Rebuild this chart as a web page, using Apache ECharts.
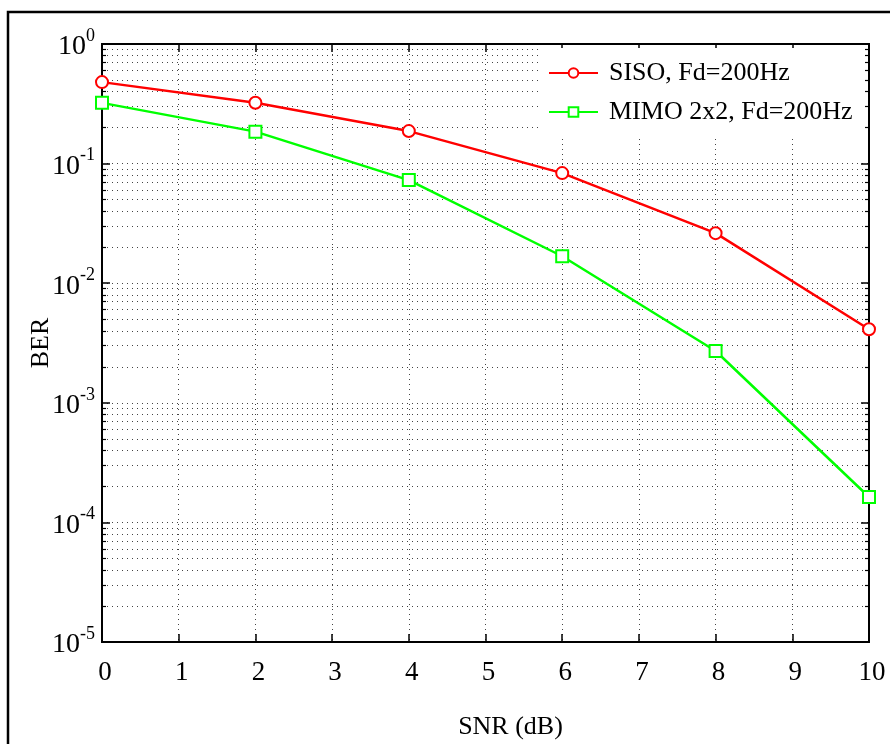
<!DOCTYPE html>
<html>
<head>
<meta charset="utf-8">
<script src="https://cdn.jsdelivr.net/npm/echarts@6/dist/echarts.min.js"></script>
<style>
html,body{margin:0;padding:0;background:#fff;}
#chart{width:890px;height:744px;}
</style>
</head>
<body>
<div id="chart"></div>
<script>
// ---- data ----
const snr = [0, 2, 4, 6, 8, 10];
const siso = [0.48, 0.323, 0.187, 0.0833, 0.0262, 0.00412];
const mimo = [0.322, 0.185, 0.0728, 0.0168, 0.00271, 0.000163];
const seriesNames = ['SISO, Fd=200Hz', 'MIMO 2x2, Fd=200Hz'];
const xTicks = [0, 1, 2, 3, 4, 5, 6, 7, 8, 9, 10];
const yDecades = [1e-5, 1e-4, 1e-3, 1e-2, 1e-1, 1];
const xTitle = 'SNR (dB)';
const yTitle = 'BER';

// minor tick positions (2..9 within each decade)
const yMinor = [];
for (let i = 0; i < yDecades.length - 1; i++) {
  for (let m = 2; m <= 9; m++) yMinor.push(+(yDecades[i] * m).toPrecision(3));
}

const FONT = "'Liberation Serif', 'Times New Roman', serif";
const gridLine = { show: true, lineStyle: { color: '#444', width: 1, type: [1, 4] } };

const chart = echarts.init(document.getElementById('chart'));

function logAxis(extra) {
  return Object.assign({
    type: 'log', logBase: 10, min: 1e-5, max: 1, gridIndex: 0,
    axisLine: { show: true, lineStyle: { color: '#000', width: 2 } },
    axisLabel: { show: false },
    splitLine: { show: false }
  }, extra);
}

chart.setOption({
  animation: false,
  backgroundColor: '#fff',
  graphic: [{
    type: 'rect', z: -10,
    shape: { x: 8, y: 12, width: 1000, height: 1000 },
    style: { fill: 'none', stroke: '#000', lineWidth: 2.5 }
  }],
  grid: { left: 102, top: 44, width: 767, height: 598, containLabel: false, outerBoundsMode: 'none' },
  xAxis: [{
    type: 'value', min: 0, max: 10, interval: 1, position: 'bottom',
    axisLine: { show: true, onZero: false, lineStyle: { color: '#000', width: 2 } },
    axisTick: { show: true, inside: true, length: 8, lineStyle: { color: '#000', width: 1.5 } },
    axisLabel: { color: '#000', fontSize: 27, fontFamily: FONT, margin: 17, padding: [0, 0, 0, 6],
      customValues: xTicks },
    splitLine: gridLine,
    name: xTitle, nameLocation: 'middle', nameGap: 72, nameMoveOverlap: false,
    nameTextStyle: { color: '#000', fontSize: 26, fontFamily: FONT, padding: [0, 0, 0, 50] }
  }, {
    type: 'value', min: 0, max: 10, interval: 1, position: 'top',
    axisLine: { show: true, onZero: false, lineStyle: { color: '#000', width: 2 } },
    axisTick: { show: true, inside: true, length: 8, lineStyle: { color: '#000', width: 1.5 } },
    axisLabel: { show: false },
    splitLine: { show: false }
  }],
  yAxis: [
    logAxis({
      position: 'left',
      axisTick: { show: true, inside: true, length: 8, lineStyle: { color: '#000', width: 1.5 }, customValues: yDecades },
      axisLabel: {
        show: true, margin: 7, customValues: yDecades,
        formatter: function (v) { return '{b|10}{s|' + Math.round(Math.log10(v)) + '}'; },
        rich: {
          b: { fontSize: 28, fontFamily: FONT, color: '#000', lineHeight: 34, verticalAlign: 'bottom' },
          s: { fontSize: 18, fontFamily: FONT, color: '#000', lineHeight: 18, verticalAlign: 'top' }
        }
      },
      splitLine: gridLine,
      name: yTitle, nameLocation: 'middle', nameGap: 48, nameRotate: 90, nameMoveOverlap: false,
      nameTextStyle: { color: '#000', fontSize: 26, fontFamily: FONT }
    }),
    logAxis({
      position: 'left',
      axisTick: { show: true, inside: true, length: 4, lineStyle: { color: '#000', width: 1.2 }, customValues: yMinor },
      splitLine: gridLine
    }),
    logAxis({
      position: 'right',
      axisTick: { show: true, inside: true, length: 8, lineStyle: { color: '#000', width: 1.5 }, customValues: yDecades }
    }),
    logAxis({
      position: 'right',
      axisTick: { show: true, inside: true, length: 4, lineStyle: { color: '#000', width: 1.2 }, customValues: yMinor }
    })
  ],
  legend: {
    orient: 'vertical', left: 538, top: 48,
    backgroundColor: '#fff', padding: [10, 12, 10, 10],
    itemWidth: 49, itemHeight: 12, itemGap: 9,
    textStyle: { color: '#000', fontSize: 26, fontFamily: FONT, lineHeight: 30, padding: [0, 0, 0, 6] },
    data: seriesNames
  },
  series: [{
    name: seriesNames[0], type: 'line', xAxisIndex: 0, yAxisIndex: 0,
    data: snr.map((x, i) => [x, siso[i]]),
    symbol: 'emptyCircle', symbolSize: 12,
    lineStyle: { color: '#ff0000', width: 2.5 },
    itemStyle: { color: '#ff0000', borderWidth: 2.5 },
    z: 5
  }, {
    name: seriesNames[1], type: 'line', xAxisIndex: 0, yAxisIndex: 0,
    data: snr.map((x, i) => [x, mimo[i]]),
    symbol: 'emptyRect', symbolSize: 12,
    lineStyle: { color: '#00ff00', width: 2.5 },
    itemStyle: { color: '#00ff00', borderWidth: 2.5 },
    z: 5
  }]
});
</script>
</body>
</html>
